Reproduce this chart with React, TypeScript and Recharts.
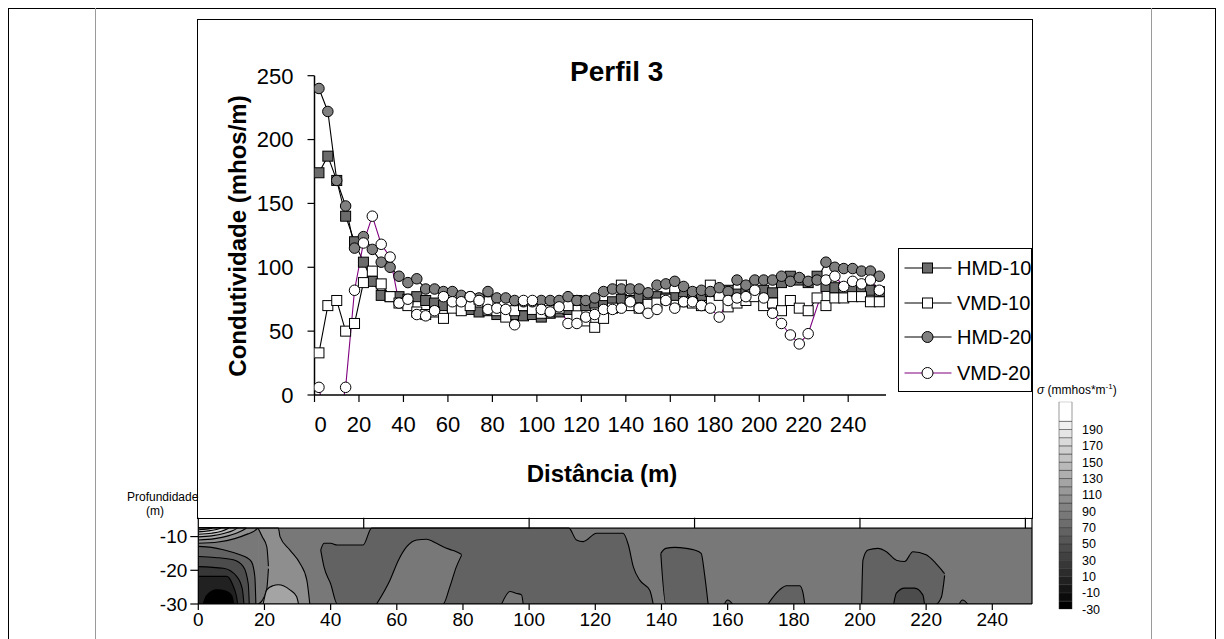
import React from 'react';
import {
  LineChart,
  Line,
  XAxis,
  YAxis,
  Legend,
  ComposedChart,
  Area,
  ReferenceLine,
  BarChart,
  Bar,
} from 'recharts';

const FONT = '"Liberation Sans", Arial, sans-serif';

// Perfil 3 - apparent conductivity along the profile
const distances = [
  2, 6, 10, 14, 18, 22, 26, 30, 34, 38, 42, 46, 50, 54, 58, 62, 66, 70, 74, 78,
  82, 86, 90, 94, 98, 102, 106, 110, 114, 118, 122, 126, 130, 134, 138, 142, 146, 150, 154, 158,
  162, 166, 170, 174, 178, 182, 186, 190, 194, 198, 202, 206, 210, 214, 218, 222, 226, 230, 234, 238,
  242, 246, 250, 254,
];
const hmd10 = [
  174, 187, 168, 140, 120, 104, 89, 78, 77, 77, 75, 77, 74, 72, 70, 69, 68, 67, 65, 66,
  63, 64, 63, 62, 63, 61, 64, 65, 67, 74, 70, 72, 70, 73, 75, 74, 76, 74, 77, 76,
  78, 79, 80, 78, 81, 80, 82, 79, 80, 81, 82, 80, 88, 93, 90, 88, 93, 85, 84, 83,
  84, 83, 82, 81,
];
const vmd10 = [
  33, 70, 74, 50, 56, 88, 97, 87, 77, 72, 70, 65, 63, 65, 60, 68, 66, 70, 75, 73,
  66, 61, 66, 70, 67, 64, 66, 68, 70, 62, 58, 53, 60, 68, 86, 70, 68, 71, 72, 75,
  84, 73, 72, 70, 86, 78, 69, 72, 74, 77, 70, 72, 66, 74, 68, 66, 76, 70, 76, 76,
  77, 77, 73, 73,
];
const hmd20 = [
  240, 222, 168, 148, 115, 124, 114, 104, 100, 93, 88, 91, 83, 83, 81, 81, 78, 77, 76, 81,
  76, 76, 74, 73, 73, 74, 74, 74, 77, 74, 74, 76, 81, 83, 83, 83, 83, 80, 86, 87,
  89, 85, 81, 82, 81, 84, 81, 90, 86, 90, 90, 90, 93, 89, 92, 89, 90, 104, 100, 99,
  99, 97, 97, 93,
];
const vmd20 = [
  6, -30, -30, 6, 82, 119, 140, 118, 108, 72, 75, 63, 62, 66, 77, 73, 73, 77, 74, 67,
  68, 67, 55, 74, 74, 67, 65, 69, 56, 56, 61, 63, 67, 67, 68, 73, 68, 64, 67, 74,
  68, 73, 73, 70, 68, 61, 74, 76, 77, 82, 76, 64, 56, 47, 40, 48, null, 90, 93, 85,
  89, 87, 90, 82,
];

const distanceTicks = [0, 20, 40, 60, 80, 100, 120, 140, 160, 180, 200, 220, 240];
const conductivityTicks = [0, 50, 100, 150, 200, 250];

// depth section (contoured conductivity), each patch: [distance, lower depth, upper depth]
const depthTicks = [-10, -20, -30];
const topAxisTicks = [50, 100, 150, 200, 250];
const baseRegion = [[0, -30, -7.5], [252, -30, -7.5]];
const lowBlock = [
  [37, -14, -14], [38, -19, -12], [40, -24, -12], [42, -30, -12.5], [49.8, -30, -12.5],
  [52.4, -30, -7.5], [112, -30, -7.5], [114.3, -30, -11], [116.3, -30, -11.5], [120.4, -30, -9],
  [128.4, -30, -9], [130, -30, -12.5], [131.5, -30, -19], [133.5, -30, -23], [136.5, -30, -26],
  [137.5, -30, -30],
];
const islandA = [
  [53.9, -30, -30], [57.9, -30, -23], [60.5, -30, -17], [63, -30, -13], [66, -30, -11],
  [69, -30, -10.8], [72, -30, -12], [74, -30, -13], [76, -25, -13.8], [78, -19, -14.5],
  [79.6, -15.5, -15.3],
];
const islandB = [[91.7, -30, -30], [94.2, -30, -26.3], [96, -30, -26.8], [97.7, -30, -27.3], [98.2, -30, -30]];
const lowB = [
  [139.8, -15, -15], [141.3, -30, -13.5], [144, -30, -13.2], [147.5, -30, -13.5], [150, -30, -14],
  [152, -30, -15], [153, -30, -21], [154.1, -30, -30],
];
const lowC = [[159, -30, -30], [160, -30, -28.8], [161.5, -30, -30]];
const lowD = [
  [172.2, -30, -30], [175.7, -30, -25.8], [177.8, -30, -24.6], [181.8, -30, -24.6],
  [182.8, -30, -26.8], [183.3, -30, -30],
];
const lowE = [
  [200.5, -30, -30], [200.9, -30, -17], [202.4, -30, -14], [205.4, -30, -13.5], [208, -30, -14.5],
  [211, -30, -17], [213.5, -30, -17.4], [216, -30, -14.5], [220, -30, -15.4], [223, -30, -18],
  [224.6, -28, -19.8], [225.6, -21.5, -21],
];
const lowCore = [
  [210.2, -30, -30], [211, -30, -26.8], [213.5, -30, -25.3], [216.5, -30, -25.3], [219, -30, -27.3],
  [219.5, -30, -30],
];
const lowF = [[230, -30, -30], [231, -30, -28.8], [232.6, -30, -30]];
const highBand = [
  [18.1, -30, -7.5], [24.2, -30, -7.5], [24.7, -30, -10], [27.7, -30, -14], [30.7, -30, -17.9],
  [32.8, -30, -22.9], [33.7, -30, -30],
];
const highBandEdge = [[18.1, -30, -7.5], [19.3, -29, -10], [20.7, -25.5, -13], [21.2, -19.5, -18.8]];
const highPocket = [
  [19.6, -30, -30], [20.7, -30, -25.8], [22.5, -30, -24.6], [24.2, -30, -24.3], [27.7, -30, -25.8],
  [29.7, -30, -27.8], [30.3, -30, -30],
];
const sinkA = [
  [0, -30, -12.9], [4, -30, -13.2], [7.6, -30, -13.9], [10.6, -30, -14.7], [12.6, -30, -15.4],
  [14.6, -30, -16.2], [16.1, -30, -17.5], [17.1, -30, -22], [17.4, -30, -30],
];
const sinkB = [[0, -30, -15.9], [5, -30, -16.2], [10.6, -30, -16.9], [13.6, -30, -18.9], [15.1, -30, -24], [15.4, -30, -30]];
const sinkC = [[0, -30, -18.9], [7.6, -30, -19.4], [11.6, -30, -21.8], [13.3, -30, -25.5], [13.8, -30, -30]];
const sinkD = [[0, -30, -21.8], [8.6, -30, -21.8], [10.6, -30, -24.8], [11.6, -30, -28], [11.9, -30, -30]];
const sinkCore = [[1.5, -30, -30], [2.5, -30, -27.5], [5.6, -30, -25.8], [8.5, -30, -26.2], [10.1, -30, -27.5], [10.7, -30, -30]];
const peak1 = [[0, -12.0, -7.5], [6, -11.6, -7.5], [11, -10.6, -7.5], [15, -9.2, -7.5], [17, -8.3, -7.5], [18, -7.5, -7.5]];
const peak2 = [[0, -11.0, -7.5], [5, -10.6, -7.5], [9, -9.8, -7.5], [12.5, -8.6, -7.5], [14.5, -7.5, -7.5]];
const peak3 = [[0, -10.1, -7.5], [4, -9.8, -7.5], [8, -9.0, -7.5], [10.5, -8.2, -7.5], [11.8, -7.5, -7.5]];
const peak4 = [[0, -9.3, -7.5], [4, -9.0, -7.5], [7, -8.4, -7.5], [9.2, -7.5, -7.5]];
const peak5 = [[0, -8.6, -7.5], [3, -8.3, -7.5], [5.5, -7.9, -7.5], [6.8, -7.5, -7.5]];
const peak6 = [[0, -8.0, -7.5], [2.5, -7.8, -7.5], [4.2, -7.5, -7.5]];

// colour scale (mmhos/m)
const colorLevels = [-30, -20, -10, 0, 10, 20, 30, 40, 50, 60, 70, 80, 90, 100, 110, 120, 130, 140, 150, 160, 170, 180, 190];
const colorbarTop = 224;
const colorbarLabels = [190, 170, 150, 130, 110, 90, 70, 50, 30, 10, -10, -30];

const levelGray = (level: number) => {
  if (level >= 200) return '#ffffff';
  const i = (level + 30) / 10;
  const g = Math.round((i * 240) / 22);
  const h = g.toString(16).padStart(2, '0');
  return `#${h}${h}${h}`;
};

const profileData = distances.map((d, i) => ({
  d,
  hmd10: hmd10[i],
  vmd10: vmd10[i],
  hmd20: hmd20[i],
  vmd20: vmd20[i],
}));

const series = [
  { key: 'hmd10', name: 'HMD-10', line: '#000', fill: '#6b6b6b', shape: 'square' },
  { key: 'vmd10', name: 'VMD-10', line: '#000', fill: '#ffffff', shape: 'square' },
  { key: 'hmd20', name: 'HMD-20', line: '#000', fill: '#808080', shape: 'circle' },
  { key: 'vmd20', name: 'VMD-20', line: '#800080', fill: '#ffffff', shape: 'circle' },
];

const contourLayers = [
  { id: 'base', level: 80, pts: baseRegion },
  { id: 'lowBlock', level: 60, pts: lowBlock },
  { id: 'islandA', level: 80, pts: islandA },
  { id: 'islandB', level: 80, pts: islandB },
  { id: 'lowB', level: 60, pts: lowB },
  { id: 'lowC', level: 60, pts: lowC },
  { id: 'lowD', level: 60, pts: lowD },
  { id: 'lowE', level: 60, pts: lowE },
  { id: 'lowCore', level: 40, pts: lowCore },
  { id: 'lowF', level: 60, pts: lowF },
  { id: 'highBand', level: 100, pts: highBand },
  { id: 'highBandEdge', level: 80, pts: highBandEdge },
  { id: 'highPocket', level: 120, pts: highPocket },
  { id: 'sinkA', level: 60, pts: sinkA },
  { id: 'sinkB', level: 40, pts: sinkB },
  { id: 'sinkC', level: 20, pts: sinkC },
  { id: 'sinkD', level: 0, pts: sinkD },
  { id: 'sinkCore', level: -30, pts: sinkCore },
  { id: 'peak1', level: 100, pts: peak1 },
  { id: 'peak2', level: 120, pts: peak2 },
  { id: 'peak3', level: 140, pts: peak3 },
  { id: 'peak4', level: 160, pts: peak4 },
  { id: 'peak5', level: 180, pts: peak5 },
  { id: 'peak6', level: 200, pts: peak6 },
];

const toRows = (pts: number[][]) => pts.map(([d, lo, hi]) => ({ d, v: [lo, hi] }));

const colorRow: Record<string, any> = { name: 'sigma' };
colorLevels.forEach((lv) => {
  colorRow[`b${lv}`] = lv < 0 ? -10 : 10;
});
colorRow.top = colorbarTop - 200;
// negatives stack downward from zero, so order them -10, -20, -30
const colorBars = [
  ...colorLevels.filter((lv) => lv >= 0),
  ...colorLevels.filter((lv) => lv < 0).reverse(),
];

function Marker({ cx, cy, shape, fill, size }: any) {
  if (shape === 'square') {
    return <rect x={cx - size / 2} y={cy - size / 2} width={size} height={size} fill={fill} stroke="#000" strokeWidth={1} />;
  }
  return <circle cx={cx} cy={cy} r={size / 2} fill={fill} stroke="#000" strokeWidth={1} />;
}

const makeDot = (shape: string, fill: string) => (props: any) => {
  const { cx, cy, index, value } = props;
  if (cx == null || cy == null || value == null) return <g key={`e-${index}`} />;
  return (
    <g key={`m-${index}`}>
      <Marker cx={cx} cy={cy} shape={shape} fill={fill} size={shape === 'square' ? 10 : 10.5} />
    </g>
  );
};

const legendRows = [19, 54, 88, 124];

function ProfileLegend() {
  return (
    <div
      style={{
        width: 134,
        height: 144,
        boxSizing: 'border-box',
        border: '1.5px solid #000',
        background: '#fff',
        position: 'relative',
        overflow: 'hidden',
        fontFamily: FONT,
      }}
    >
      {series.map((s, i) => (
        <div
          key={s.key}
          style={{ position: 'absolute', left: 0, top: legendRows[i] - 12, height: 24, width: 200, display: 'flex', alignItems: 'center' }}
        >
          <svg width={58} height={24} style={{ flex: 'none' }}>
            <line x1={5.5} x2={52.5} y1={12} y2={12} stroke={s.line} strokeWidth={1.2} />
            <Marker cx={28.5} cy={12} shape={s.shape} fill={s.fill} size={s.shape === 'square' ? 10 : 11} />
          </svg>
          <span style={{ fontSize: 20, whiteSpace: 'nowrap', lineHeight: '24px', color: '#000' }}>{s.name}</span>
        </div>
      ))}
    </div>
  );
}

const XTick = (props: any) => {
  const { x, y, payload } = props;
  return (
    <text x={x + (payload.value === 0 ? 6 : 0)} y={y} dy="0.71em" textAnchor="middle" fontSize={22} fill="#000" fontFamily={FONT}>
      {payload.value}
    </text>
  );
};

const abs = (left: number, top: number, extra: React.CSSProperties = {}): React.CSSProperties => ({
  position: 'absolute',
  left,
  top,
  ...extra,
});

export default function App() {
  return (
    <div
      style={{
        position: 'absolute',
        left: 0,
        top: 0,
        width: 1224,
        height: 639,
        background: '#fff',
        overflow: 'hidden',
        fontFamily: FONT,
        color: '#000',
      }}
    >
      {/* page frame */}
      <div style={abs(8, 8, { width: 1208, height: 640, borderTop: '1px solid #000', borderLeft: '1px solid #000', borderRight: '1px solid #000', boxSizing: 'border-box' })} />
      <div style={abs(95, 8, { width: 1, height: 640, background: '#9a9a9a' })} />
      <div style={abs(1151, 8, { width: 1, height: 640, background: '#9a9a9a' })} />

      {/* profile chart */}
      <div style={abs(197, 19, { width: 836, height: 500, background: '#fff' })} />
      <div style={abs(198, 20)}>
        <LineChart width={834} height={498} data={profileData} margin={{ top: 55.7, right: 146, bottom: 63, left: 46.5 }}>
          <XAxis
            dataKey="d"
            type="number"
            domain={[0, 257]}
            ticks={distanceTicks}
            interval={0}
            allowDataOverflow
            height={60}
            tickSize={7}
            tickMargin={14}
            tick={<XTick />}
            axisLine={{ stroke: '#000', strokeWidth: 1.5 }}
            tickLine={{ stroke: '#000', strokeWidth: 1.2 }}
          />
          <YAxis
            type="number"
            domain={[0, 250]}
            ticks={conductivityTicks}
            interval={0}
            allowDataOverflow
            width={70}
            tickSize={7}
            tickMargin={14}
            tick={{ fontSize: 22, fill: '#000', fontFamily: FONT }}
            axisLine={{ stroke: '#000', strokeWidth: 1.5 }}
            tickLine={{ stroke: '#000', strokeWidth: 1.2 }}
          />
          {series.map((s) => (
            <Line
              key={s.key}
              dataKey={s.key}
              name={s.name}
              type="linear"
              stroke={s.line}
              strokeWidth={1.1}
              dot={makeDot(s.shape, s.fill)}
              activeDot={false}
              connectNulls
              isAnimationActive={false}
            />
          ))}
          <Legend
            layout="vertical"
            align="center"
            verticalAlign="middle"
            content={() => <ProfileLegend />}
            wrapperStyle={{ left: 700, top: 228, width: 134, height: 144 }}
          />
        </LineChart>
      </div>
      <div style={abs(197, 19, { width: 836, height: 500, border: '1.5px solid #000', boxSizing: 'border-box', pointerEvents: 'none' })} />

      <div style={abs(570, 56, { fontSize: 28, fontWeight: 700, whiteSpace: 'nowrap', lineHeight: '32px' })}>Perfil 3</div>
      <div style={abs(238, 236, { transform: 'translate(-50%, -50%) rotate(-90deg)', fontSize: 24, fontWeight: 700, whiteSpace: 'nowrap' })}>
        Condutividade (mhos/m)
      </div>
      <div style={abs(602, 474, { transform: 'translate(-50%, -50%)', fontSize: 24, fontWeight: 700, whiteSpace: 'nowrap' })}>Distância (m)</div>

      {/* depth section */}
      <div style={abs(127, 490, { fontSize: 12, whiteSpace: 'nowrap' })}>Profundidade</div>
      <div style={abs(146, 504, { fontSize: 12, whiteSpace: 'nowrap' })}>(m)</div>
      <div style={abs(130, 505)}>
        <ComposedChart width={930} height={134} margin={{ top: 12.7, right: 16, bottom: 5, left: 28.3 }}>
          <XAxis
            dataKey="d"
            type="number"
            domain={[0, 252]}
            ticks={distanceTicks}
            interval={0}
            allowDataOverflow
            height={30}
            tickSize={6}
            tickMargin={3}
            tick={{ fontSize: 19, fill: '#000', fontFamily: FONT }}
            axisLine={{ stroke: '#000', strokeWidth: 1.2 }}
            tickLine={{ stroke: '#000', strokeWidth: 1.2 }}
          />
          <YAxis
            yAxisId="depth"
            type="number"
            domain={[-30, -4.4]}
            ticks={depthTicks}
            interval={0}
            allowDataOverflow
            width={40}
            tickSize={8}
            tickMargin={3}
            tick={{ fontSize: 19, fill: '#000', fontFamily: FONT }}
            axisLine={{ stroke: '#000', strokeWidth: 1.2 }}
            tickLine={{ stroke: '#000', strokeWidth: 1.2 }}
          />
          <YAxis
            yAxisId="mirror"
            orientation="right"
            type="number"
            domain={[-30, -4.4]}
            ticks={depthTicks}
            interval={0}
            allowDataOverflow
            width={12}
            tickSize={10}
            tick={false}
            axisLine={{ stroke: '#000', strokeWidth: 1.2 }}
            tickLine={{ stroke: '#000', strokeWidth: 1.2 }}
          />
          {contourLayers.map((layer) => (
            <Area
              key={layer.id}
              yAxisId="depth"
              data={toRows(layer.pts)}
              dataKey="v"
              type="monotoneX"
              fill={levelGray(layer.level)}
              fillOpacity={1}
              stroke="#000"
              strokeWidth={1.1}
              dot={false}
              activeDot={false}
              isAnimationActive={false}
            />
          ))}
          {topAxisTicks.map((t) => (
            <ReferenceLine
              key={t}
              yAxisId="depth"
              segment={[{ x: t, y: -4.4 }, { x: t, y: -7.5 }]}
              stroke="#000"
              strokeWidth={1.2}
            />
          ))}
        </ComposedChart>
      </div>

      {/* colour scale */}
      <div style={abs(1037, 382, { fontSize: 12, whiteSpace: 'nowrap' })}>
        <i>σ</i> (mmhos*m<sup style={{ fontSize: 8 }}>-1</sup>)
      </div>
      <div style={abs(1050, 395)}>
        <BarChart width={100} height={225} data={[colorRow]} margin={{ top: 6.7, right: 18, left: 9, bottom: 10.7 }} stackOffset="sign" barCategoryGap={0}>
          <XAxis dataKey="name" hide />
          <YAxis
            orientation="right"
            type="number"
            domain={[-30, colorbarTop]}
            ticks={colorbarLabels}
            interval={0}
            allowDataOverflow
            width={60}
            axisLine={false}
            tickLine={false}
            tickMargin={4}
            tick={{ fontSize: 12.5, fill: '#000', fontFamily: FONT }}
          />
          {colorBars.map((lv) => (
            <Bar key={lv} dataKey={`b${lv}`} stackId="cb" fill={levelGray(lv)} stroke="#333" strokeWidth={0.5} isAnimationActive={false} />
          ))}
          <Bar dataKey="top" stackId="cb" fill="#ffffff" stroke="#333" strokeWidth={0.5} isAnimationActive={false} />
        </BarChart>
      </div>
    </div>
  );
}
